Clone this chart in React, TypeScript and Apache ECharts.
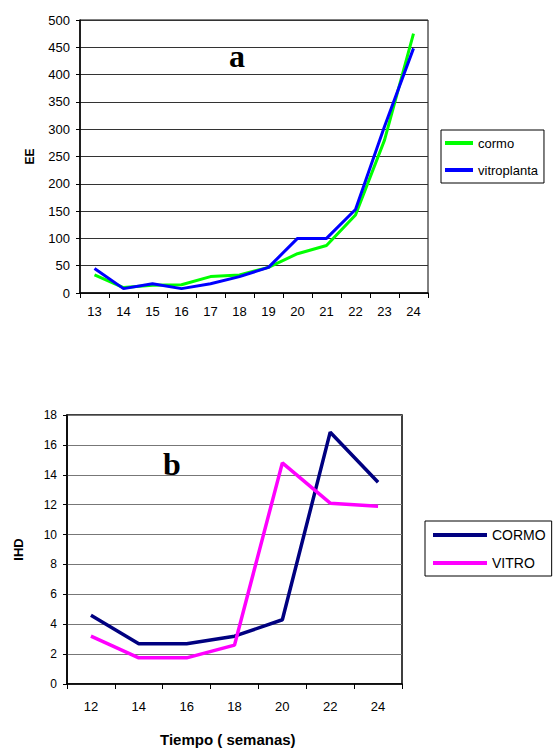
import React, { useEffect, useRef } from "react";
import * as echarts from "echarts";

const weeksA = ["13", "14", "15", "16", "17", "18", "19", "20", "21", "22", "23", "24"];
const cormoA = [33, 10, 14, 15, 30, 33, 47, 72, 87, 143, 280, 475];
const vitroplantaA = [45, 8, 17, 8, 17, 30, 47, 100, 100, 153, 305, 448];

const weeksB = ["12", "14", "16", "18", "20", "22", "24"];
const cormoB = [4.6, 2.7, 2.7, 3.2, 4.3, 16.85, 13.5];
const vitroB = [3.2, 1.75, 1.75, 2.6, 14.8, 12.1, 11.9];

const FONT = "Liberation Sans, Arial, sans-serif";

export default function App() {
  const ref = useRef<HTMLDivElement>(null);
  useEffect(() => {
    if (!ref.current) return;
    const chart = echarts.init(ref.current, undefined, { renderer: "svg" });
    chart.setOption({
      animation: false,
      backgroundColor: "#fff",
      textStyle: { fontFamily: FONT },
      grid: [
        { left: 80, top: 20, width: 348, height: 273, show: true, borderColor: "#000", borderWidth: 1, backgroundColor: "transparent" },
        { left: 67, top: 415, width: 335, height: 269, show: true, borderColor: "#000", borderWidth: 1.5, backgroundColor: "transparent" },
      ],
      xAxis: [
        {
          gridIndex: 0,
          type: "category",
          data: weeksA,
          boundaryGap: true,
          axisLine: { show: true, lineStyle: { color: "#000", width: 1.5 } },
          axisTick: { show: true, length: 5, lineStyle: { color: "#000" } },
          axisLabel: { color: "#000", fontSize: 13, margin: 12, fontFamily: FONT },
          splitLine: { show: false },
        },
        {
          gridIndex: 1,
          type: "category",
          data: weeksB,
          boundaryGap: true,
          axisLine: { show: true, lineStyle: { color: "#000", width: 1.5 } },
          axisTick: { show: true, length: 5, lineStyle: { color: "#000" } },
          axisLabel: { color: "#000", fontSize: 13, margin: 16, fontFamily: FONT },
          splitLine: { show: false },
        },
      ],
      yAxis: [
        {
          gridIndex: 0,
          type: "value",
          min: 0,
          max: 500,
          interval: 50,
          name: "EE",
          nameLocation: "middle",
          nameRotate: 90,
          nameGap: 44,
          nameTextStyle: { color: "#000", fontSize: 12, fontWeight: "bold", fontFamily: FONT },
          axisLine: { show: true, lineStyle: { color: "#000", width: 1.5 } },
          axisTick: { show: true, length: 4, lineStyle: { color: "#000" } },
          axisLabel: { color: "#000", fontSize: 13, margin: 10, fontFamily: FONT },
          splitLine: { show: true, lineStyle: { color: "#333", width: 1 } },
        },
        {
          gridIndex: 1,
          type: "value",
          min: 0,
          max: 18,
          interval: 2,
          name: "IHD",
          nameLocation: "middle",
          nameRotate: 90,
          nameGap: 42,
          nameTextStyle: { color: "#000", fontSize: 13, fontWeight: "bold", fontFamily: FONT },
          axisLine: { show: true, lineStyle: { color: "#000", width: 1.5 } },
          axisTick: { show: true, length: 4, lineStyle: { color: "#000" } },
          axisLabel: { color: "#000", fontSize: 12, margin: 10, fontFamily: FONT },
          splitLine: { show: true, lineStyle: { color: "#777", width: 1 } },
        },
      ],
      legend: [
        {
          data: ["cormo", "vitroplanta"],
          orient: "vertical",
          left: 441,
          top: 130,
          icon: "rect",
          itemWidth: 28,
          itemHeight: 4,
          itemGap: 13,
          padding: [6, 6, 6, 4],
          borderColor: "#000",
          borderWidth: 1,
          textStyle: { color: "#000", fontSize: 13, lineHeight: 14, fontFamily: FONT },
        },
        {
          data: ["CORMO", "VITRO"],
          orient: "vertical",
          left: 425,
          top: 521,
          icon: "rect",
          itemWidth: 54,
          itemHeight: 4,
          itemGap: 14,
          padding: [7, 6, 6, 8],
          borderColor: "#000",
          borderWidth: 1,
          textStyle: { color: "#000", fontSize: 14, lineHeight: 14, fontFamily: FONT },
        },
      ],
      series: [
        {
          name: "cormo",
          type: "line",
          xAxisIndex: 0,
          yAxisIndex: 0,
          data: cormoA,
          symbol: "none",
          lineStyle: { color: "#00ff00", width: 3 },
          itemStyle: { color: "#00ff00" },
        },
        {
          name: "vitroplanta",
          type: "line",
          xAxisIndex: 0,
          yAxisIndex: 0,
          data: vitroplantaA,
          symbol: "none",
          lineStyle: { color: "#0000ff", width: 3 },
          itemStyle: { color: "#0000ff" },
        },
        {
          name: "CORMO",
          type: "line",
          xAxisIndex: 1,
          yAxisIndex: 1,
          data: cormoB,
          symbol: "none",
          lineStyle: { color: "#000080", width: 3.5 },
          itemStyle: { color: "#000080" },
        },
        {
          name: "VITRO",
          type: "line",
          xAxisIndex: 1,
          yAxisIndex: 1,
          data: vitroB,
          symbol: "none",
          lineStyle: { color: "#ff00ff", width: 3.5 },
          itemStyle: { color: "#ff00ff" },
        },
      ],
      graphic: [
        {
          type: "text",
          left: 229,
          top: 40,
          style: { text: "a", font: "bold 32px 'Liberation Serif', 'Times New Roman', serif", fill: "#000" },
        },
        {
          type: "text",
          left: 163,
          top: 448,
          style: { text: "b", font: "bold 32px 'Liberation Serif', 'Times New Roman', serif", fill: "#000" },
        },
        {
          type: "text",
          left: 160,
          top: 732,
          style: { text: "Tiempo ( semanas)", font: "bold 15px 'Liberation Sans', Arial, sans-serif", fill: "#000" },
        },
      ],
    });
    return () => chart.dispose();
  }, []);
  return (
    <div
      ref={ref}
      style={{ position: "fixed", left: 0, top: 0, width: 556, height: 750 }}
    />
  );
}
